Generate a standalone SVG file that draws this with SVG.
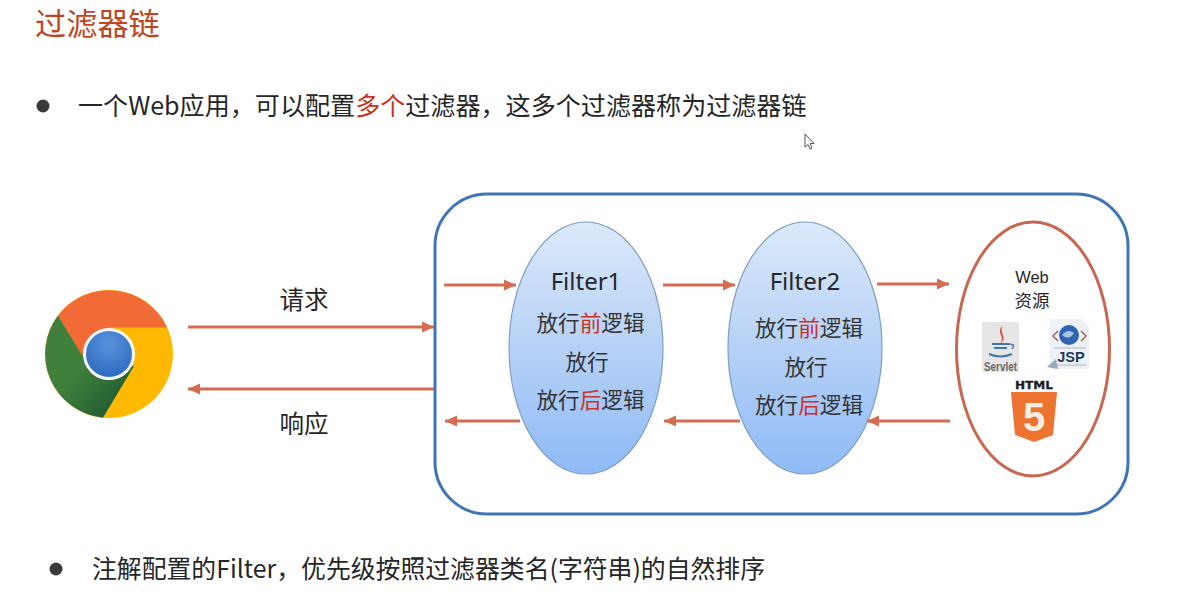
<svg xmlns="http://www.w3.org/2000/svg" width="1184" height="592" viewBox="0 0 1184 592">
<style>
text{font-family:"Liberation Sans","Noto Sans CJK SC",sans-serif;fill:#262626}
.cn{font-family:"Noto Sans CJK SC",sans-serif}
.f{font-size:24px;text-anchor:middle;font-family:"Noto Sans","Noto Sans CJK SC",sans-serif}
.l{font-size:21.600px;text-anchor:middle;font-family:"Noto Sans CJK SC",sans-serif;fill:#333}
.r{fill:#C8321E}
.conn{stroke:#D56B50;stroke-width:3.200;fill:none}
.ell{fill:url(#blue);stroke:#7E9CC4;stroke-width:1.200}
</style>
<defs>
<linearGradient id="blue" x1="0" y1="0" x2="0" y2="1"><stop offset="0" stop-color="#DCE9FB"/><stop offset="0.5" stop-color="#B6D1F6"/><stop offset="1" stop-color="#8FBBF6"/></linearGradient>
<marker id="a" markerUnits="userSpaceOnUse" markerWidth="13" markerHeight="12" refX="12" refY="6" orient="auto-start-reverse"><path d="M0 0.500 L12 6 L0 11.500 Z" fill="#D56B50"/></marker>
<radialGradient id="ball" cx="0.5" cy="0.3" r="0.8"><stop offset="0" stop-color="#5B92DC"/><stop offset="1" stop-color="#2464BC"/></radialGradient>
<linearGradient id="green" x1="0" y1="0" x2="1" y2="1"><stop offset="0.45" stop-color="#41803C"/><stop offset="1" stop-color="#174F30"/></linearGradient>
</defs>
<rect width="1184" height="592" fill="#fff"/>
<g id="title"><text x="35" y="35" class="cn" font-size="31.200" style="fill:#C0451F">过滤器链</text></g>
<g id="bullet1"><circle cx="43" cy="106" r="6.500" fill="#3a3a3a"/>
<text x="78" y="115" class="cn" font-size="25.080">一个Web应用，可以配置<tspan class="r">多个</tspan>过滤器，这多个过滤器称为过滤器链</text></g>
<g id="cursor"><path d="M805 134 L805 147 L808 144.500 L810 149 L812 148 L810 143.500 L814 143.500 Z" fill="#fff" stroke="#555" stroke-width="1"/></g>
<g id="container"><rect x="435" y="194" width="693" height="320" rx="52" fill="#fff" stroke="#3F74B5" stroke-width="3"/></g>
<g id="chrome">
<circle cx="109" cy="354" r="64" fill="#FFB900"/>
<path d="M58 315.500 A64 64 0 0 1 167 327.500 L109 327.500 L85 360 Z" fill="#F26A36"/>
<path d="M58 315.500 A64 64 0 0 0 103 417.700 L134 366 L85 360 Z" fill="url(#green)"/>
<circle cx="109" cy="354" r="24.500" fill="url(#ball)" stroke="#F4F7FA" stroke-width="3"/>
</g>
<g id="filter1"><ellipse class="ell" cx="586" cy="348" rx="77" ry="126"/>
<text class="f" x="586" y="290">Filter1</text>
<text class="l" x="590.500" y="331">放行<tspan class="r">前</tspan>逻辑</text>
<text class="l" x="587" y="370">放行</text>
<text class="l" x="590.500" y="408">放行<tspan class="r">后</tspan>逻辑</text></g>
<g id="filter2"><ellipse class="ell" cx="805" cy="348" rx="77" ry="126"/>
<text class="f" x="805" y="290">Filter2</text>
<text class="l" x="809" y="336">放行<tspan class="r">前</tspan>逻辑</text>
<text class="l" x="806" y="375">放行</text>
<text class="l" x="809" y="413">放行<tspan class="r">后</tspan>逻辑</text></g>
<g id="resources"><ellipse cx="1033" cy="349" rx="76.500" ry="127" fill="#fff" stroke="#C8674F" stroke-width="3"/>
<text x="1032" y="283" text-anchor="middle" font-size="16.500">Web</text>
<text x="1032" y="307" text-anchor="middle" class="cn" font-size="17.500">资源</text>
<g id="servlet"><rect x="982" y="322" width="37" height="50" fill="#E6E6E6"/>
<path d="M1003 325 C995 333 1006 336 1000 344 C1009 337 998 333 1003 325 Z" fill="#D9533A"/>
<path d="M992 344 H1009 M994 348 H1007 M989 354 Q1001 359 1012 354" stroke="#3F78B0" stroke-width="2" fill="none"/>
<path d="M1009 344 Q1016 344 1012 349" stroke="#3F78B0" stroke-width="1.500" fill="none"/>
<text x="1000.500" y="371" text-anchor="middle" font-size="12.500" font-weight="bold" textLength="33" lengthAdjust="spacingAndGlyphs" style="fill:#666">Servlet</text></g>
<g id="jsp"><path d="M1050 319 H1082 L1089 327 V369 H1050 Z" fill="#EEF1F6"/>
<circle cx="1069" cy="335" r="10" fill="#2F64B4"/>
<path d="M1062 335 Q1068 328 1074 333 Q1069 341 1062 335 Z" fill="#A9C3E6"/>
<path d="M1058 331 L1053 336 L1058 341 M1081 331 L1086 336 L1081 341" stroke="#A8655A" stroke-width="1.500" fill="none"/>
<path d="M1054 348 H1086 M1054 365 H1086" stroke="#A9B8CC" stroke-width="1"/>
<path d="M1047 367 L1056 359 L1058 369 Z" fill="#9AA8BC"/>
<text x="1071" y="362" text-anchor="middle" font-size="14.500" font-weight="bold" style="fill:#1F3A5C">JSP</text></g>
<g id="html5"><text x="1034" y="388.500" text-anchor="middle" font-size="11" font-weight="bold" textLength="38" lengthAdjust="spacingAndGlyphs" style="font-family:'DejaVu Sans',sans-serif;fill:#1c1c1c;stroke:#1c1c1c;stroke-width:.3">HTML</text>
<path d="M1011 392 H1057 L1053 435 L1034 442 L1015 435 Z" fill="#EC7430"/>
<text x="1034" y="431" text-anchor="middle" font-size="40" font-weight="bold" style="fill:#F6EDE4">5</text></g>
</g>
<g id="connectors">
<path class="conn" marker-end="url(#a)" d="M188 327 H434"/>
<path class="conn" marker-end="url(#a)" d="M434 389 H188"/>
<path class="conn" marker-end="url(#a)" d="M444 285 H516"/>
<path class="conn" marker-end="url(#a)" d="M663 285 H735"/>
<path class="conn" marker-end="url(#a)" d="M877 284 H949"/>
<path class="conn" marker-end="url(#a)" d="M950 421 H867"/>
<path class="conn" marker-end="url(#a)" d="M740 421 H664"/>
<path class="conn" marker-end="url(#a)" d="M520 421 H445"/>
</g>
<g id="labels"><text x="304" y="309" text-anchor="middle" class="cn" font-size="24.500">请求</text>
<text x="304" y="433" text-anchor="middle" class="cn" font-size="24.500">响应</text></g>
<g id="bullet2"><circle cx="56" cy="569" r="6.500" fill="#3a3a3a"/>
<text x="92" y="578" class="cn" font-size="24.850">注解配置的Filter，优先级按照过滤器类名(字符串)的自然排序</text></g>
</svg>
